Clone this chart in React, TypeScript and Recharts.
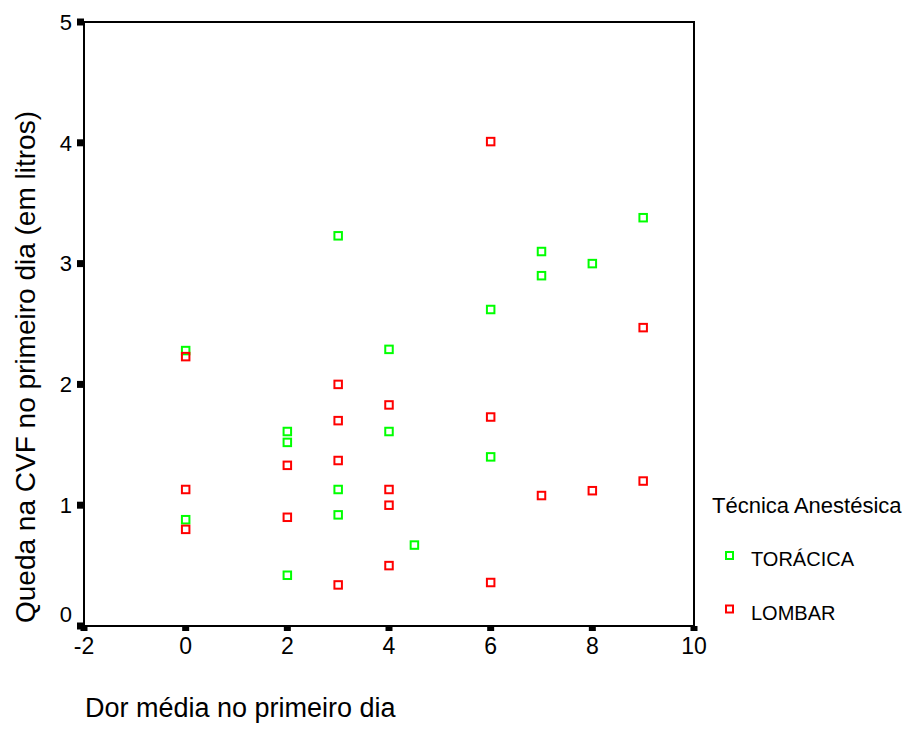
import React from "react";
import {
  ScatterChart,
  Scatter,
  XAxis,
  YAxis,
  ReferenceArea,
} from "recharts";

const toracicaDor = [0, 0, 2, 2, 2, 3, 3, 3, 4, 4, 4.5, 6, 6, 7, 7, 8, 9];
const toracicaQueda = [2.28, 0.88, 1.61, 1.52, 0.42, 3.23, 1.13, 0.92, 2.29, 1.61, 0.67, 2.62, 1.4, 3.1, 2.9, 3.0, 3.38];

const lombarDor = [0, 0, 0, 2, 2, 3, 3, 3, 3, 4, 4, 4, 4, 6, 6, 6, 7, 8, 9, 9];
const lombarQueda = [2.23, 1.13, 0.8, 1.33, 0.9, 2.0, 1.7, 1.37, 0.34, 1.83, 1.13, 1.0, 0.5, 4.01, 1.73, 0.36, 1.08, 1.12, 2.47, 1.2];

const xTicks = [-2, 0, 2, 4, 6, 8, 10];
const yTicks = [0, 1, 2, 3, 4, 5];

const seriesNames = ["TORÁCICA", "LOMBAR"];
const seriesColors = ["#00ff00", "#ff0000"];

const FONT = "'Liberation Sans', Arial, sans-serif";

const toracicaData = toracicaDor.map((x, i) => ({ x, y: toracicaQueda[i] }));
const lombarData = lombarDor.map((x, i) => ({ x, y: lombarQueda[i] }));

const makeSquare = (color: string) => (props: any) => {
  const { cx, cy } = props;
  if (cx == null || cy == null) return null;
  return (
    <rect
      x={cx - 3.75}
      y={cy - 3.75}
      width={7.5}
      height={7.5}
      fill="none"
      stroke={color}
      strokeWidth={2}
    />
  );
};

const YTick = (props: any) => {
  const { x, y, payload } = props;
  const shift = payload.value === 0 ? -12 : 0;
  return (
    <text
      x={x}
      y={y + shift}
      dy="0.355em"
      textAnchor="end"
      fontFamily={FONT}
      fontSize={22}
      fill="#000"
    >
      {payload.value}
    </text>
  );
};

const XTick = (props: any) => {
  const { x, y, payload } = props;
  return (
    <text
      x={x}
      y={y}
      dy="0.71em"
      textAnchor="middle"
      fontFamily={FONT}
      fontSize={23}
      fill="#000"
    >
      {payload.value}
    </text>
  );
};

export default function App() {
  return (
    <div style={{ position: "absolute", left: 0, top: 0, width: 906, height: 731, background: "#fff" }}>
      <ScatterChart
        width={906}
        height={731}
        margin={{ top: 22, right: 212, left: 0, bottom: 0 }}
      >
        <XAxis
          type="number"
          dataKey="x"
          domain={[-2, 10]}
          ticks={xTicks}
          allowDataOverflow
          height={105}
          axisLine={{ stroke: "#000", strokeWidth: 2 }}
          tickLine={{ stroke: "#000", strokeWidth: 7 }}
          tickSize={5}
          tickMargin={7}
          tick={<XTick />}
          label={{
            content: () => (
              <text x={85} y={717} fontFamily={FONT} fontSize={27} fill="#000">
                Dor média no primeiro dia
              </text>
            ),
          }}
        />
        <YAxis
          type="number"
          dataKey="y"
          domain={[0, 5]}
          ticks={yTicks}
          allowDataOverflow
          width={84}
          axisLine={{ stroke: "#000", strokeWidth: 2 }}
          tickLine={{ stroke: "#000", strokeWidth: 7 }}
          tickSize={7}
          tickMargin={5}
          tick={<YTick />}
          label={{
            content: () => (
              <text
                x={35}
                y={367}
                transform="rotate(-90, 35, 367)"
                textAnchor="middle"
                fontFamily={FONT}
                fontSize={28}
                fill="#000"
              >
                Queda na CVF no primeiro dia (em litros)
              </text>
            ),
          }}
        />
        <ReferenceArea
          x1={-2}
          x2={10}
          y1={0}
          y2={5}
          fill="none"
          fillOpacity={0}
          stroke="#000"
          strokeWidth={2}
          ifOverflow="visible"
        />
        <Scatter
          name={seriesNames[0]}
          data={toracicaData}
          shape={makeSquare(seriesColors[0])}
          isAnimationActive={false}
        />
        <Scatter
          name={seriesNames[1]}
          data={lombarData}
          shape={makeSquare(seriesColors[1])}
          isAnimationActive={false}
        />
      </ScatterChart>
      <svg
        width={906}
        height={731}
        style={{ position: "absolute", left: 0, top: 0, pointerEvents: "none" }}
      >
        <text x={712} y={513} fontFamily={FONT} fontSize={22} fill="#000">
          Técnica Anestésica
        </text>
        {seriesNames.map((name, i) => (
          <g key={name}>
            <rect
              x={726}
              y={552 + i * 53.5}
              width={7}
              height={7}
              fill="none"
              stroke={seriesColors[i]}
              strokeWidth={2}
            />
            <text x={751} y={566 + i * 54} fontFamily={FONT} fontSize={20} fill="#000">
              {name}
            </text>
          </g>
        ))}
      </svg>
    </div>
  );
}
